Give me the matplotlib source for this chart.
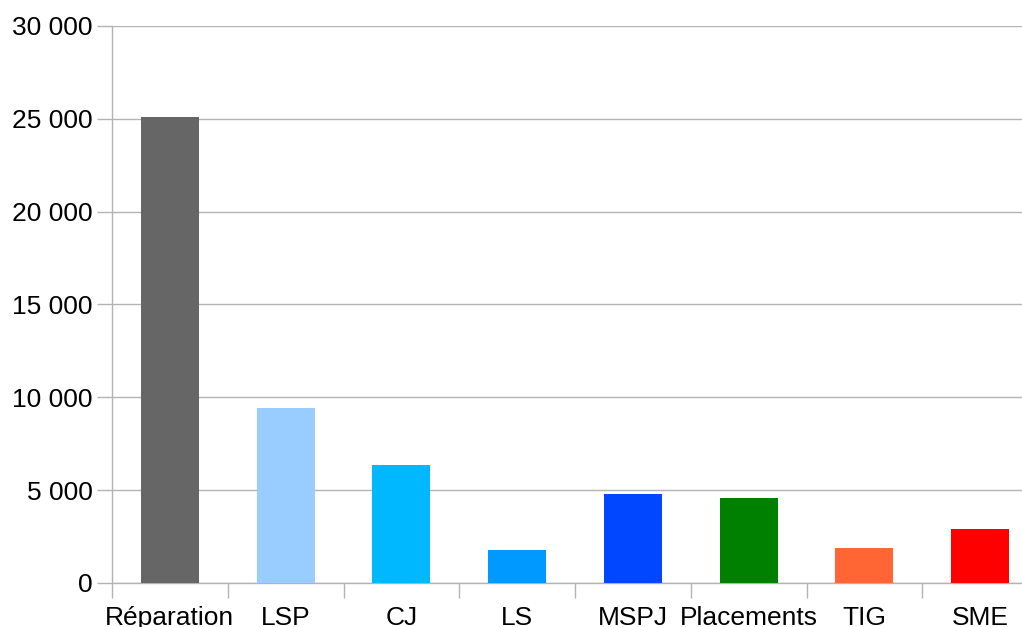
import matplotlib
matplotlib.use("Agg")
import matplotlib.pyplot as plt
from matplotlib.ticker import FuncFormatter, MultipleLocator

categories = ["Réparation", "LSP", "CJ", "LS", "MSPJ", "Placements", "TIG", "SME"]
values = [25100, 9430, 6350, 1780, 4790, 4580, 1880, 2910]
colors = ["#666666", "#99ccff", "#00b8ff", "#0099ff", "#0047ff", "#008000", "#ff6633", "#ff0000"]

plt.rcParams['font.family'] = ['Liberation Sans', 'DejaVu Sans']

fig = plt.figure(figsize=(10.22, 6.27), dpi=100)
ax = fig.add_axes([112/1022, 44/627, 926/1022, 557/627])

x = list(range(len(categories)))
ax.bar(x, values, width=0.5, color=colors, zorder=3)

ax.set_xlim(-0.5, len(categories) - 0.5)
ax.set_ylim(0, 30000)
ax.yaxis.set_major_locator(MultipleLocator(5000))
ax.yaxis.set_major_formatter(FuncFormatter(lambda v, p: f"{int(v):,}".replace(",", " ")))

gray = "#b3b3b3"
ax.grid(axis="y", color=gray, linewidth=1, zorder=0)
for s in ["top", "right"]:
    ax.spines[s].set_visible(False)
for s in ["left", "bottom"]:
    ax.spines[s].set_color(gray)
    ax.spines[s].set_linewidth(1)

ax.set_xticks([i - 0.5 for i in range(len(categories) + 1)])
ax.set_xticklabels([])
ax.set_xticks(x, minor=True)
ax.set_xticklabels(categories, minor=True, fontsize=19)
ax.tick_params(axis="x", which="major", length=11, color=gray, width=1)
ax.tick_params(axis="x", which="minor", length=0, pad=16.5)
ax.tick_params(axis="y", length=11, color=gray, width=1, labelsize=19, pad=3)

fig.savefig("out.png", dpi=100)
